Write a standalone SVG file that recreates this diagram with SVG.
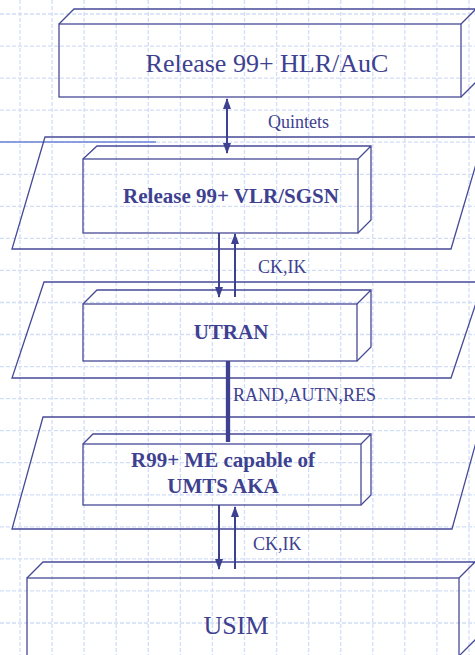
<svg xmlns="http://www.w3.org/2000/svg" width="475" height="655" viewBox="0 0 475 655">
<defs>
<style>
.grid{stroke:#d2ddf7;stroke-width:1.3;stroke-dasharray:4 2;fill:none}
.box{fill:none;stroke:#464a96;stroke-width:1.3;stroke-linejoin:miter}
.plane{fill:none;stroke:#464a96;stroke-width:1.3}
.conn{stroke:#3d4190;stroke-width:2;fill:none}
.big{font-family:"Liberation Serif","Times New Roman",serif;font-size:26px;fill:#3d4190;text-anchor:middle}
.bold{font-family:"Liberation Serif","Times New Roman",serif;font-size:21px;font-weight:bold;fill:#3d4190;text-anchor:middle}
.lbl{font-family:"Liberation Serif","Times New Roman",serif;font-size:18px;fill:#3d4190}
</style>
<marker id="ah" markerUnits="userSpaceOnUse" markerWidth="11" markerHeight="8" refX="10" refY="4" orient="auto-start-reverse">
<path d="M0,0 L11,4 L0,8 z" fill="#3d4190"/>
</marker>
</defs>
<rect width="475" height="655" fill="#ffffff"/>
<g id="grid">
<path class="grid" d="M20,0V655M52.1,0V655M84.1,0V655M116.2,0V655M148.3,0V655M180.4,0V655M212.4,0V655M244.5,0V655M276.6,0V655M308.6,0V655M340.7,0V655M372.8,0V655M404.8,0V655M436.9,0V655M469,0V655"/>
<path class="grid" d="M0,14H475M0,46.1H475M0,78.1H475M0,110.2H475M0,142.2H475M0,174.3H475M0,206.3H475M0,238.4H475M0,270.4H475M0,302.5H475M0,334.5H475M0,366.6H475M0,398.6H475M0,430.7H475M0,462.7H475M0,494.8H475M0,526.8H475M0,558.9H475M0,590.9H475M0,623H475"/>
<line x1="0" y1="142" x2="156" y2="142" stroke="#6b82d8" stroke-width="1.3"/>
</g>
<g id="planes">
<polygon class="plane" points="45,137 484,137 451,249 12,249"/>
<polygon class="plane" points="44,282 483,282 451,378 12,378"/>
<polygon class="plane" points="43,417 483,417 452,529 12,529"/>
</g>
<g id="hlr">
<rect class="box" x="59" y="24" width="402" height="73"/>
<path class="box" d="M59,24 L74,9 L476,9 M461,24 L476,9 M461,97 L476,82"/>
<text class="big" x="267" y="72">Release 99+ HLR/AuC</text>
</g>
<g id="vlr">
<rect class="box" x="83" y="159" width="275" height="74"/>
<path class="box" d="M83,159 L97,146 L371,146 L371,220 L358,233 M358,159 L371,146"/>
<text class="bold" x="231" y="203">Release 99+ VLR/SGSN</text>
</g>
<g id="utran">
<rect class="box" x="83" y="304" width="274" height="57"/>
<path class="box" d="M83,304 L97,290 L371,290 L371,347 L357,361 M357,304 L371,290"/>
<text class="bold" x="231" y="339">UTRAN</text>
</g>
<g id="me">
<rect class="box" x="83" y="444" width="278" height="61"/>
<path class="box" d="M83,444 L93,434 L371,434 L371,495 L361,505 M361,444 L371,434"/>
<text class="bold" x="223" y="467">R99+ ME capable of</text>
<text class="bold" x="223" y="493">UMTS AKA</text>
</g>
<g id="usim">
<rect class="box" x="27" y="578" width="432" height="80"/>
<path class="box" d="M27,578 L43,562 L476,562 M459,578 L476,561 M459,656 L476,639"/>
<text class="big" x="236" y="634">USIM</text>
</g>
<g id="connectors">
<line class="conn" x1="227" y1="99" x2="227" y2="153" marker-start="url(#ah)" marker-end="url(#ah)"/>
<text class="lbl" x="268" y="128">Quintets</text>
<line class="conn" x1="219" y1="233" x2="219" y2="297" marker-end="url(#ah)"/>
<line class="conn" x1="235" y1="297" x2="235" y2="234" marker-end="url(#ah)"/>
<text class="lbl" x="258" y="273">CK,IK</text>
<line x1="228" y1="361" x2="228" y2="442" stroke="#3d4190" stroke-width="4.3"/>
<text class="lbl" x="233" y="401">RAND,AUTN,RES</text>
<line class="conn" x1="219" y1="505" x2="219" y2="569" marker-end="url(#ah)"/>
<line class="conn" x1="235" y1="569" x2="235" y2="507" marker-end="url(#ah)"/>
<text class="lbl" x="253" y="550">CK,IK</text>
</g>
</svg>
